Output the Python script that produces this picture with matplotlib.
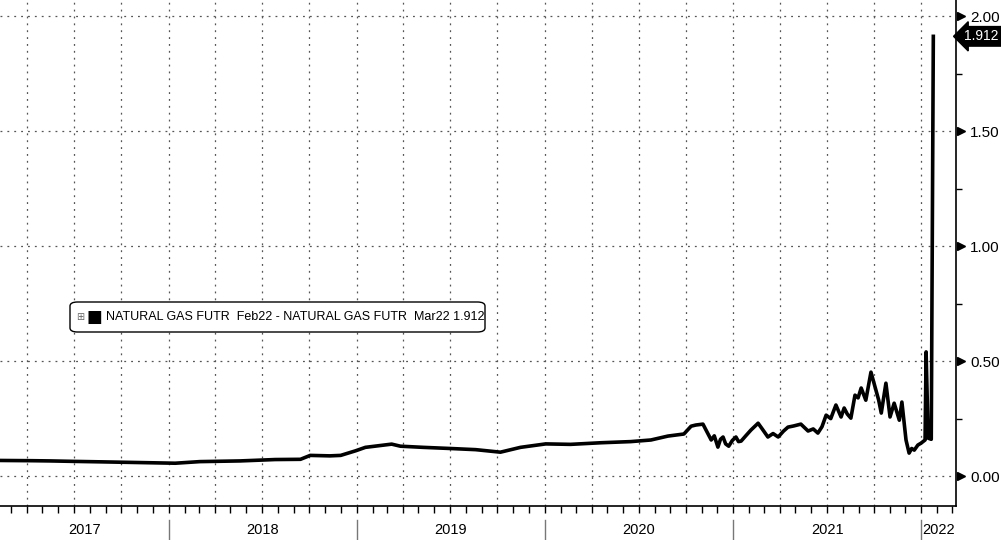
import pandas as pd
import matplotlib.pyplot as plt
import matplotlib.dates as mdates
import matplotlib.transforms as mtransforms
from matplotlib.patches import FancyBboxPatch

# Feb22 - Mar22 natural gas futures spread
dates = ['2017-02-08', '2017-04-10', '2017-05-16', '2017-07-01', '2017-08-22', '2017-10-10',
         '2017-11-27', '2018-01-14', '2018-03-03', '2018-05-20', '2018-07-27', '2018-09-14',
         '2018-10-03', '2018-11-10', '2018-12-01', '2018-12-30', '2019-01-18', '2019-03-10',
         '2019-03-27', '2019-05-10', '2019-07-02', '2019-08-20', '2019-10-07', '2019-11-15',
         '2020-01-03', '2020-02-20', '2020-04-19', '2020-06-16', '2020-07-25', '2020-08-27',
         '2020-09-27', '2020-10-11', '2020-10-20', '2020-11-03', '2020-11-09', '2020-11-19',
         '2020-11-25', '2020-12-02', '2020-12-07', '2020-12-12', '2020-12-17', '2020-12-23',
         '2020-12-30', '2021-01-06', '2021-01-11', '2021-01-16', '2021-01-25', '2021-02-04',
         '2021-02-18', '2021-02-26', '2021-03-09', '2021-03-19', '2021-03-29', '2021-04-08',
         '2021-04-17', '2021-04-28', '2021-05-12', '2021-05-26', '2021-06-05', '2021-06-14',
         '2021-06-22', '2021-06-30', '2021-07-09', '2021-07-14', '2021-07-19', '2021-07-29',
         '2021-08-04', '2021-08-10', '2021-08-17', '2021-08-25', '2021-08-31', '2021-09-06',
         '2021-09-15', '2021-09-25', '2021-10-03', '2021-10-10', '2021-10-15', '2021-10-24',
         '2021-11-01', '2021-11-09', '2021-11-14', '2021-11-19', '2021-11-24', '2021-12-02',
         '2021-12-08', '2021-12-13', '2021-12-18', '2021-12-25', '2021-12-31', '2022-01-08',
         '2022-01-10', '2022-01-14', '2022-01-20', '2022-01-24']
spread = [0.068, 0.067, 0.066, 0.064, 0.062, 0.060,
          0.058, 0.056, 0.063, 0.066, 0.072, 0.073,
          0.090, 0.088, 0.090, 0.110, 0.125, 0.139,
          0.130, 0.125, 0.120, 0.115, 0.104, 0.125,
          0.140, 0.138, 0.145, 0.150, 0.157, 0.174,
          0.183, 0.217, 0.222, 0.226, 0.200, 0.157,
          0.175, 0.126, 0.160, 0.170, 0.140, 0.130,
          0.155, 0.170, 0.150, 0.152, 0.175, 0.200,
          0.230, 0.205, 0.170, 0.185, 0.170, 0.195,
          0.213, 0.218, 0.226, 0.196, 0.205, 0.187,
          0.215, 0.265, 0.250, 0.280, 0.309, 0.257,
          0.296, 0.270, 0.252, 0.352, 0.340, 0.383,
          0.330, 0.452, 0.387, 0.330, 0.274, 0.404,
          0.257, 0.317, 0.280, 0.243, 0.322, 0.157,
          0.100, 0.120, 0.113, 0.135, 0.143, 0.157,
          0.540, 0.165, 0.160, 1.912]
years = ['2017', '2018', '2019', '2020', '2021', '2022']
last_value = spread[-1]

x = pd.to_datetime(dates)
x_start = pd.Timestamp('2017-02-08')
x_end = pd.Timestamp('2022-03-09')

plt.rcParams['font.family'] = ['Liberation Sans', 'DejaVu Sans']

fig = plt.figure(figsize=(10.01, 5.40), dpi=100)
ax = fig.add_axes([0, 1 - 506 / 540, 956 / 1001, 506 / 540])

ax.plot(x, spread, color='black', linewidth=2.6, solid_joinstyle='round')

ax.set_xlim(x_start, x_end)
ax.set_ylim(-0.130, 2.070)

# x axis: quarterly grid, monthly ticks, no labels
ax.xaxis.set_major_locator(mdates.MonthLocator(bymonth=[1, 4, 7, 10]))
ax.xaxis.set_minor_locator(mdates.MonthLocator())
ax.tick_params(axis='x', which='both', direction='out', length=5, width=1,
               labelbottom=False, color='black')

# y axis on the right
ax.yaxis.tick_right()
ax.set_yticks([0, 0.5, 1.0, 1.5, 2.0])
ax.set_yticks([0.25, 0.75, 1.25, 1.75], minor=True)
ax.yaxis.set_major_formatter(plt.FuncFormatter(lambda v, p: f'{v:.2f}'))
ax.tick_params(axis='y', which='major', length=0, pad=10, labelsize=11)
ax.tick_params(axis='y', which='minor', length=4, width=1, direction='out')

ax.grid(True, which='major', color='#555555', linestyle=(0, (1.5, 4)), linewidth=0.9)

for side in ['top', 'left']:
    ax.spines[side].set_visible(False)
ax.spines['right'].set_linewidth(1.2)
ax.spines['bottom'].set_linewidth(1.2)

# triangles at the major y ticks
tr_y = mtransforms.blended_transform_factory(ax.transAxes, ax.transData)
ax.plot([1.0055] * 5, [0, 0.5, 1.0, 1.5, 2.0], linestyle='none', marker='>',
        markersize=6, color='black', transform=tr_y, clip_on=False)

# last value tag
ax.text(1.0085, last_value, f'{last_value:.3f}', transform=tr_y, color='white',
        fontsize=10, va='center', ha='left', clip_on=False,
        bbox=dict(boxstyle='larrow,pad=0.2', fc='black', ec='black'))

# year separators and labels below the axis
tr_x = mtransforms.blended_transform_factory(ax.transData, ax.transAxes)
bounds = [x_start] + [pd.Timestamp(f'{y}-01-01') for y in years[1:]] + [x_end]
for i, yr in enumerate(years):
    left, right = bounds[i], bounds[i + 1]
    mid = left + (right - left) / 2
    ax.text(mid, -0.047, yr, transform=tr_x, ha='center', va='center',
            fontsize=10.5, clip_on=False)
    if i > 0:
        ax.plot([left, left], [-0.028, -0.07], color='#777777', linewidth=1,
                transform=tr_x, clip_on=False)

# legend box
ax.add_patch(FancyBboxPatch((70 / 956, (506 - 332) / 506), 415 / 956, 30 / 506,
                            boxstyle='round,pad=0,rounding_size=0.008',
                            transform=ax.transAxes, fc='white', ec='black',
                            linewidth=1, zorder=5))
ly = (506 - 317) / 506
ax.text(76 / 956, ly, '\u229e', transform=ax.transAxes, fontsize=7, color='#666666',
        va='center', ha='left', zorder=6, family=['DejaVu Sans'])
ax.text(87 / 956, ly, '\u25a0', transform=ax.transAxes, fontsize=12, color='black',
        va='center', ha='left', zorder=6, family=['DejaVu Sans'])
ax.text(106 / 956, ly, f'NATURAL GAS FUTR  Feb22 - NATURAL GAS FUTR  Mar22 {last_value:.3f}',
        transform=ax.transAxes, fontsize=9, color='black', va='center', ha='left', zorder=6)

fig.savefig('out.png', dpi=100)
